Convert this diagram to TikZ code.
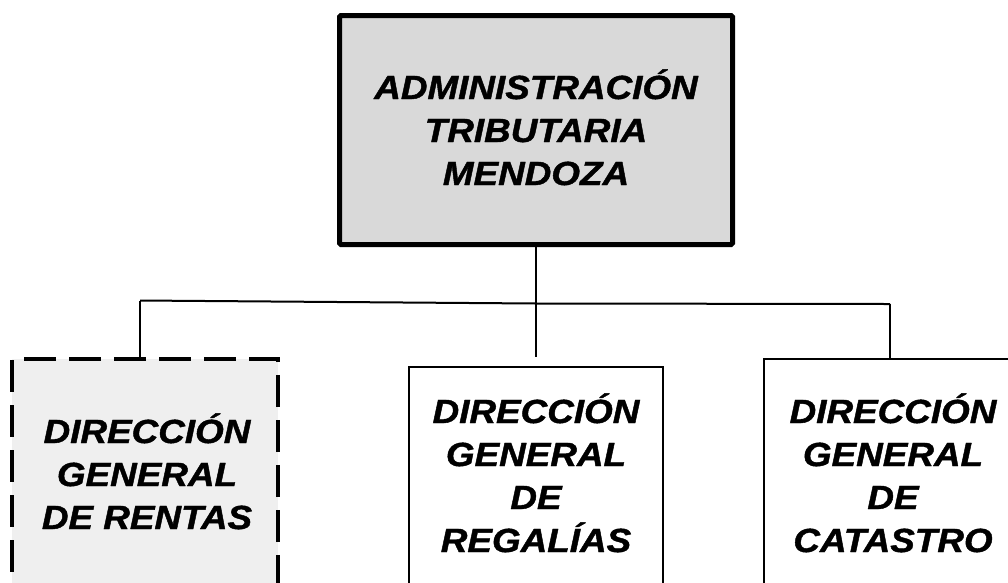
\documentclass[tikz,border=0pt]{standalone}
\usepackage{fontspec}
\usepackage{graphicx}
\setmainfont{Liberation Sans}[BoldItalicFeatures={FakeBold=1.2}]
\definecolor{topfill}{HTML}{D9D9D9}
\definecolor{leftfill}{HTML}{EFEFEF}
\newcommand{\boxtext}[1]{\scalebox{1.10}[1]{\begin{tabular}[t]{@{}c@{}}#1\end{tabular}}}
\tikzset{
  boxbase/.style={draw=black, rectangle, inner sep=0pt},
  topbox/.style={boxbase, fill=topfill, line width=5pt, rounded corners=1.5pt, minimum width=393pt, minimum height=229pt},
  dashbox/.style={boxbase, fill=leftfill, line width=4pt, dash pattern=on 32pt off 13pt, minimum width=266pt, minimum height=232pt},
  plainbox/.style={boxbase, fill=white, line width=2pt},
  lbl/.style={anchor=base, inner sep=0pt, font=\fontsize{33.5}{43}\selectfont\bfseries\itshape},
  conn/.style={draw=black, line width=2pt}
}
\begin{document}
\begin{tikzpicture}[x=1pt,y=-1pt]
\useasboundingbox (0,0) rectangle (1008,582);
\clip (0,0) rectangle (1008,582);
\fill[white] (0,0) rectangle (1008,582);
% boxes
\node[topbox] (top) at (536,130) {};
\node[dashbox] (b1) at (145,475) {};
\node[plainbox, minimum width=254pt, minimum height=246pt] (b2) at (536,490) {};
\node[plainbox, minimum width=258pt, minimum height=262pt] (b3) at (893,490) {};
% labels (anchored at the baseline of their first line)
\node[lbl] (toptext) at (536,99) {\boxtext{ADMINISTRACIÓN\\TRIBUTARIA\\MENDOZA}};
\node[lbl] (b1text) at (147,443) {\boxtext{DIRECCIÓN\\GENERAL\\DE RENTAS}};
\node[lbl] (b2text) at (536,423) {\boxtext{DIRECCIÓN\\GENERAL\\DE\\REGALÍAS}};
\node[lbl] (b3text) at (893,423) {\boxtext{DIRECCIÓN\\GENERAL\\DE\\CATASTRO}};
% connectors
\coordinate (j) at (536,303.5);
\coordinate (mend) at (536,357);
\coordinate (lc) at (140,300.5);
\coordinate (rc) at (890,304);
\draw[conn] (top.south) -- (mend);
\draw[conn] (lc) -- (j) -- (rc);
\draw[conn] (lc) -- (lc |- b1.north);
\draw[conn] (rc) -- (rc |- b3.north);
\end{tikzpicture}
\end{document}
